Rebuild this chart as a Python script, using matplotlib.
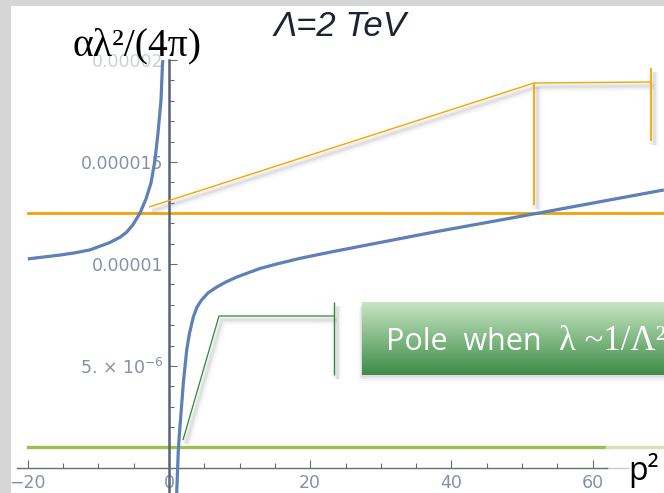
import numpy as np
import matplotlib.pyplot as plt
from matplotlib.patches import Rectangle
from matplotlib.ticker import FixedLocator, FixedFormatter

# running coupling alpha*lambda^2/(4 pi) versus p^2, Lambda = 2 TeV (values in units of 1e-6)
p2_left = [-20.0, -15.4, -13.3, -11.2, -8.4, -6.9, -6.0, -5.1, -4.1, -3.26, -2.55,
           -1.98, -1.56, -1.13, -0.92, -0.86]
alpha_left = [10.25, 10.44, 10.55, 10.69, 11.05, 11.32, 11.56, 11.93, 12.50, 13.19, 13.97,
              15.1, 16.42, 18.04, 19.85, 20.0]

p2_right = [1.09, 1.32, 1.48, 1.66, 2.03, 2.51, 2.9, 3.44, 3.97, 4.63, 5.52, 6.76,
            8.07, 9.59, 12.89, 15.25, 18.6, 23.1, 37.3, 52.4, 70.1]
alpha_right = [-1.23, 0.88, 1.71, 2.50, 4.17, 5.78, 6.6, 7.40, 7.89, 8.24, 8.58, 8.87,
               9.12, 9.36, 9.78, 10.0, 10.28, 10.6, 11.55, 12.50, 13.63]

orange_level = 12.5
green_level = 1.03

x_ticks = [-20, 0, 20, 40, 60]
x_ticklabels = ["\u221220", "0", "20", "40", "60"]
y_ticks = [5, 10, 15, 20]
y_ticklabels = ["5. \u00d7 10$^{-6}$", "0.00001", "0.000015", "0.00002"]

W, H = 664, 493
X0, XS = 169.0, 7.06   # pixel of p2=0, pixels per unit
Y0, YS = 468.0, 20.4   # pixel of alpha=0, pixels per 1e-6


def fxy(xs, ys):
    return [x / W for x in xs], [1 - y / H for y in ys]


def shadow(xs, ys, dx=3, dy=4):
    for lw, a in [(7, 0.05), (4, 0.08), (2, 0.12)]:
        fig.add_artist(plt.Line2D(*fxy([x + dx for x in xs], [y + dy for y in ys]),
                                  transform=fig.transFigure, color="#808080",
                                  lw=lw, alpha=a, zorder=1, solid_capstyle="butt"))


def seg(xs, ys, color, lw):
    fig.add_artist(plt.Line2D(*fxy(xs, ys), transform=fig.transFigure, color=color,
                              lw=lw, zorder=2, solid_capstyle="butt"))


fig = plt.figure(figsize=(W / 100, H / 100), dpi=100, facecolor="white")
ax = fig.add_axes([0, 0, 1, 1])
ax.patch.set_visible(False)

for xs, ys in [(p2_left, alpha_left), (p2_right, alpha_right)]:
    ax.plot(xs, ys, color="#5d80b6", lw=2.3, solid_capstyle="butt",
            solid_joinstyle="round", zorder=3)

ax.plot([-20, 70.2], [orange_level] * 2, color="#efa20c", lw=2.0, zorder=2)
ax.plot([-20, 62], [green_level] * 2, color="#9dbd55", lw=2.4, zorder=2)
ax.plot([62, 70.2], [green_level] * 2, color="#d3e4b5", lw=2.4, zorder=2)
ax.plot([62, 65], [0, 0], color="#c8c8c8", lw=1.0, zorder=2)

ax.set_xlim(-X0 / XS, (W - X0) / XS)
ax.set_ylim(-(H - Y0) / YS, Y0 / YS)

for side in ["top", "right"]:
    ax.spines[side].set_visible(False)
ax.spines["left"].set_position(("data", 0))
ax.spines["bottom"].set_position(("data", 0))
ax.spines["left"].set_bounds(-(H - Y0) / YS, 20.0)
ax.spines["bottom"].set_bounds(-21.5, 62)
ax.spines["left"].set_color("#56637a")
ax.spines["left"].set_linewidth(1.8)
ax.spines["bottom"].set_color("#6b6b6b")
ax.spines["bottom"].set_linewidth(1.0)
ax.spines["left"].set_zorder(2.5)

ax.xaxis.set_major_locator(FixedLocator(x_ticks))
ax.xaxis.set_major_formatter(FixedFormatter(x_ticklabels))
ax.xaxis.set_minor_locator(FixedLocator(np.arange(-20, 61, 5)))
ax.yaxis.set_major_locator(FixedLocator(y_ticks))
ax.yaxis.set_major_formatter(FixedFormatter(y_ticklabels))
ax.yaxis.set_minor_locator(FixedLocator(np.arange(1, 20, 1)))
ax.tick_params(which="both", direction="in", color="#6b6b6b", width=0.8,
               labelsize=12.5, labelcolor="#8592a6", pad=4)
ax.tick_params(which="major", length=6)
ax.tick_params(which="minor", length=3.5)
ax.get_yticklabels()[-1].set_color("#c9d0da")

# orange callout pointing at the crossing on the left branch
shadow([149, 534, 651], [207, 83, 82])
shadow([534, 534], [83, 205])
shadow([651, 651], [68, 141])
seg([149, 534, 651], [207, 83, 82], "#f2a900", 1.0)
seg([534, 534], [83, 205], "#f2a900", 1.3)
seg([651, 651], [68, 141], "#f2a900", 1.3)

# green callout near the pole
shadow([183, 219, 334], [440, 316, 316])
shadow([334, 334], [302, 375])
seg([183, 219, 334], [440, 316, 316], "#2f8a3a", 0.9)
seg([334, 334], [302, 375], "#2f8a3a", 1.0)

# green text box with vertical gradient
for off, a in [(6, 0.06), (4, 0.08), (2, 0.12)]:
    fig.add_artist(Rectangle(((362 - off / 2) / W, 1 - (375 + off) / H), (W - 362 + off) / W,
                             73 / H, transform=fig.transFigure, facecolor="#707070",
                             edgecolor="none", alpha=a, zorder=1))
bax = fig.add_axes([362 / W, 1 - 375 / H, (W - 362) / W, 73 / H], zorder=2)
top = np.array([0.784, 0.902, 0.773])
bottom = np.array([0.243, 0.549, 0.275])
grad = np.linspace(0, 1, 64)[:, None, None] * (bottom - top) + top
bax.imshow(grad, aspect="auto", extent=[0, 1, 0, 1])
bax.axis("off")
fig.text(386 / W, 1 - 350 / H, "Pole  when", family="Open Sans", size=22,
         color="white", va="baseline", zorder=5)
fig.text(559 / W, 1 - 350 / H, "\u03bb ~1/\u039b\u00b2", family="Liberation Serif",
         size=25, color="white", va="baseline", zorder=5)

fig.text(274 / W, 1 - 36 / H, "\u039b=2 TeV", family="Liberation Sans", style="italic",
         size=25, color="#1c2333", va="baseline")
fig.text(72 / W, 1 - 55 / H, "\u03b1\u03bb\u00b2/(4\u03c0)", family="Liberation Serif",
         size=28.5, color="black", va="baseline")
fig.text(628 / W, 1 - 480 / H, "p\u00b2", family="Open Sans", size=23,
         color="black", va="baseline")

# grey frame of the slide
fig.add_artist(Rectangle((0, 0), 11 / W, 1, transform=fig.transFigure,
                         facecolor="#d6d6d6", edgecolor="none", zorder=10))
fig.add_artist(Rectangle((0, 1 - 6 / H), 1, 6 / H, transform=fig.transFigure,
                         facecolor="#d6d6d6", edgecolor="none", zorder=10))

fig.savefig("out.png", dpi=100, facecolor="white")
